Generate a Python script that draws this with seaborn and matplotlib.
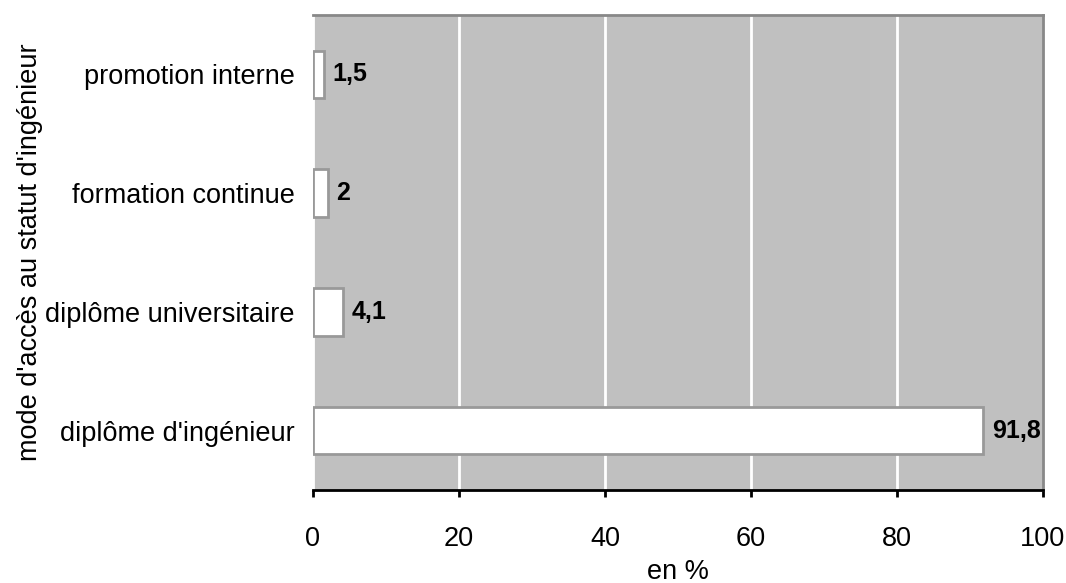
import pandas as pd
from matplotlib import pyplot as plt
import seaborn as sns

# categories from top to bottom, as shown
modes = ["promotion interne", "formation continue", "diplôme universitaire", "diplôme d'ingénieur"]
values = [1.5, 2.0, 4.1, 91.8]
labels = ["1,5", "2", "4,1", "91,8"]

df = pd.DataFrame({"mode": modes, "pct": values})

sns.set_style("white")
plt.rcParams['font.family'] = ['Liberation Sans', 'DejaVu Sans']
plt.rcParams['text.color'] = 'black'
plt.rcParams['axes.labelcolor'] = 'black'
plt.rcParams['xtick.color'] = 'black'
plt.rcParams['ytick.color'] = 'black'

fs = 19.5

fig = plt.figure(figsize=(10.66, 5.83), dpi=100)
ax = fig.add_axes([0.2936, 0.1595, 0.6848, 0.8148])
ax.set_facecolor('#c0c0c0')

sns.barplot(data=df, x="pct", y="mode", order=modes, color="white",
            edgecolor="#999999", linewidth=2, width=0.4, saturation=1, ax=ax, zorder=3)

for i, (v, lab) in enumerate(zip(values, labels)):
    ax.text(v + 1.2, i, lab, va='center', ha='left', fontsize=18, fontweight='bold', zorder=4)

ax.set_xlim(0, 100)
ax.set_ylim(3.5, -0.5)
ax.set_xticks([0, 20, 40, 60, 80, 100])
for x in [0, 20, 40, 60, 80]:
    ax.axvline(x, color='white', lw=2, zorder=1)

ax.tick_params(axis='x', direction='out', length=5, width=2, labelsize=fs, pad=21)
ax.tick_params(axis='y', length=0, labelsize=fs, pad=13)
ax.xaxis.set_ticks_position('bottom')

for s in ['top', 'right']:
    ax.spines[s].set_color('#888888')
    ax.spines[s].set_linewidth(2)
ax.spines['left'].set_visible(False)
ax.spines['bottom'].set_color('black')
ax.spines['bottom'].set_linewidth(2)

ax.set_xlabel("en %", fontsize=fs, labelpad=5)
ax.set_ylabel("mode d'accès au statut d'ingénieur", fontsize=fs, labelpad=2)

fig.savefig('out.png', dpi=100)
